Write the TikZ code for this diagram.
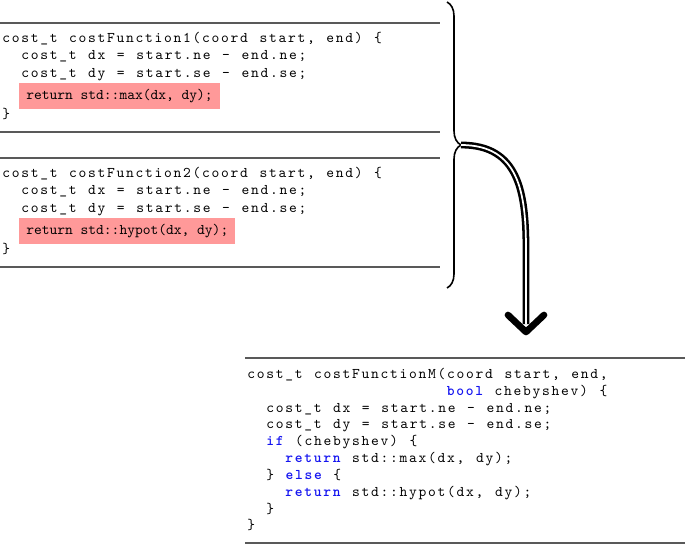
\documentclass[tikz,border=0pt]{standalone}
\usepackage{fontspec}
\usetikzlibrary{decorations.pathreplacing}
\newfontfamily\codefont{lmmono10-regular}[Extension=.otf, Scale=1.11,
  BoldFont=lmmonolt10-bold, LetterSpace=11.7, WordSpace={1.22,0,0}]
\newfontfamily\plaincode{lmmono10-regular}[Extension=.otf, Scale=1.11]
\definecolor{hlpink}{RGB}{255,153,153}
\definecolor{keyword}{RGB}{20,20,240}
\newcommand{\codekw}[1]{\textcolor{keyword}{\bfseries #1}}
\begin{document}
\begin{tikzpicture}
[x=0.75pt,y=0.75pt,
  codeline/.style={anchor=base west,inner sep=0pt,font=\codefont},
  hiline/.style={anchor=base west,fill=hlpink,inner xsep=5.25pt,inner ysep=4.2pt,
    text height=8.3pt,text depth=2.8pt,font=\plaincode},
  rulefine/.style={draw=black!65,line width=0.9pt},
  bracedecorate/.style={decorate,decoration={brace,amplitude=10.5pt},line width=1.2pt},
  arrowdecorate/.style={double,line width=1.9pt,double distance=1.3pt},
  headdecorate/.style={line width=5pt,line cap=round,line join=round}]
\useasboundingbox (0,0) rectangle (685,-545);
%% rules above and below each listing
\foreach \y/\xa/\xb in {23/0/440, 132/0/440, 158/0/440, 267/0/440,
  358/245/685, 543/245/685}
  \draw[rulefine] (\xa,-\y) -- (\xb,-\y);
%% first and second listing
\foreach \nodename/\col/\y/\code in {
  f1_1/0/42.7/{cost\_t costFunction1(coord start, end) \{},
  f1_2/2/59.9/{cost\_t dx = start.ne - end.ne;},
  f1_3/2/77.1/{cost\_t dy = start.se - end.se;},
  f1_5/0/118.5/{\}},
  f2_1/0/177.7/{cost\_t costFunction2(coord start, end) \{},
  f2_2/2/194.9/{cost\_t dx = start.ne - end.ne;},
  f2_3/2/212.1/{cost\_t dy = start.se - end.se;},
  f2_5/0/253.5/{\}}} {
  \node (\nodename) [codeline] at (2+9.5*\col,-\y) {\code};
}
\node (f1_4) [hiline] at (19,-99.3) {return std::max(dx, dy);};
\node (f2_4) [hiline] at (19,-234.3) {return std::hypot(dx, dy);};
%% merged listing
\foreach \nodename/\col/\y/\code in {
  fm_1/0/378.3/{cost\_t costFunctionM(coord start, end,},
  fm_2/21/395.1/{\codekw{bool} chebyshev) \{},
  fm_3/2/412.0/{cost\_t dx = start.ne - end.ne;},
  fm_4/2/428.8/{cost\_t dy = start.se - end.se;},
  fm_5/2/445.7/{\codekw{if} (chebyshev) \{},
  fm_6/4/462.5/{\codekw{return} std::max(dx, dy);},
  fm_7/2/479.4/{\} \codekw{else} \{},
  fm_8/4/496.2/{\codekw{return} std::hypot(dx, dy);},
  fm_9/2/513.1/{\}},
  fm_10/0/529.9/{\}}} {
  \node (\nodename) [codeline] at (247+9.5*\col,-\y) {\code};
}
%% brace and arrow
\draw[bracedecorate] (447,-2) -- (447,-288);
\coordinate (bracetip) at (461,-145);
\coordinate (bend) at (526,-250);
\coordinate (headtip) at (526,-332);
\draw[arrowdecorate] (bracetip) to[out=0,in=90,looseness=1.2] (bend) -- ([yshift=6pt]headtip);
\draw[headdecorate] (headtip) ++(-18,17) -- (headtip) -- ++(18,17);
\end{tikzpicture}
\end{document}
